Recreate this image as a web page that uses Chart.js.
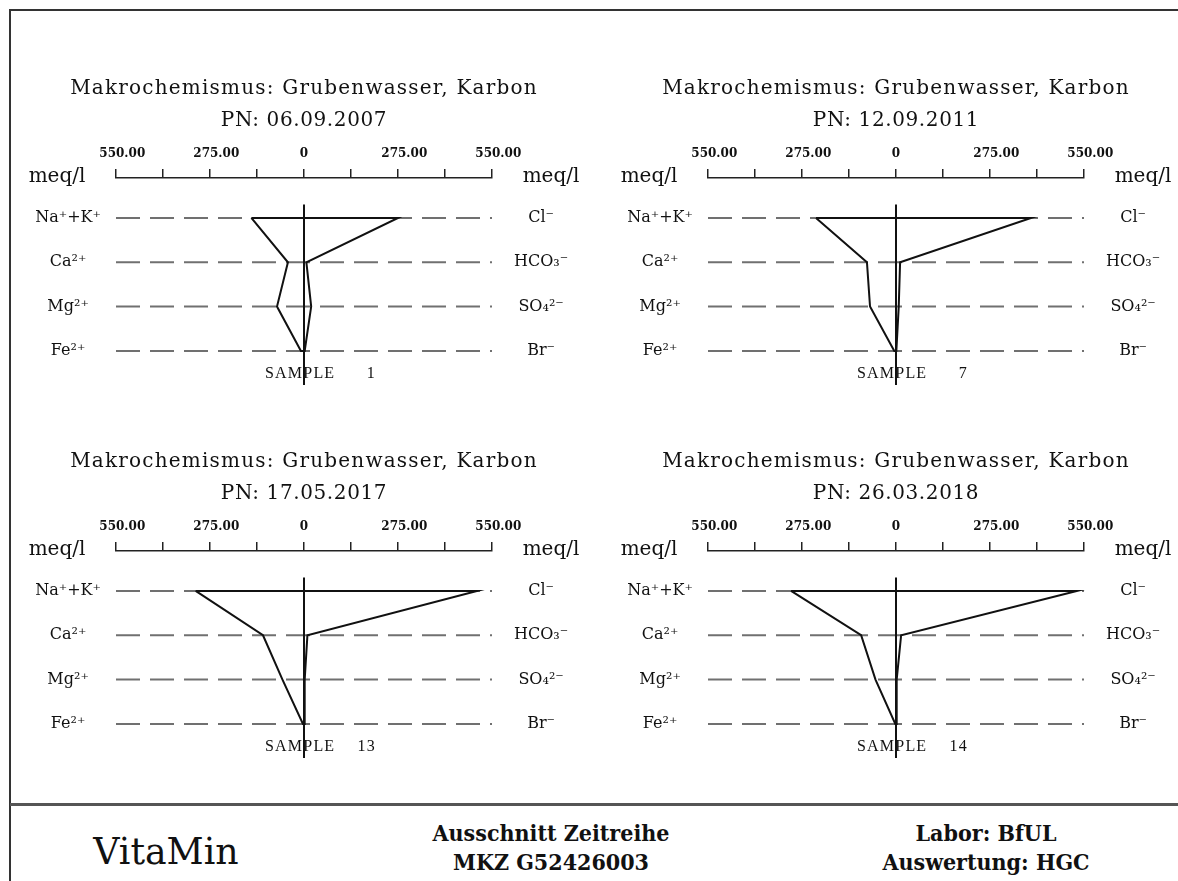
<!DOCTYPE html>
<html><head><meta charset="utf-8">
<script src="https://cdn.jsdelivr.net/npm/chart.js@4.4.1/dist/chart.umd.min.js"></script>
<style>
html,body{margin:0;padding:0;background:#fff;width:1178px;height:881px;overflow:hidden;position:relative}
#frame{position:absolute;left:9px;top:9px;width:1200px;height:900px;border-left:2px solid #333;border-top:2px solid #333}
#sep{position:absolute;left:10px;top:803px;width:1180px;height:3px;background:#555}
canvas.panel{position:absolute}
.foot{position:absolute;font-family:'DejaVu Serif';color:#111;white-space:nowrap;transform:translate(-50%,-50%) scaleX(0.94)}
</style></head><body>
<div id="frame"></div><div id="sep"></div>
<canvas class="panel" id="c0" width="592" height="373" style="left:0px;top:40px"></canvas>
<canvas class="panel" id="c1" width="592" height="373" style="left:592px;top:40px"></canvas>
<canvas class="panel" id="c2" width="592" height="373" style="left:0px;top:413px"></canvas>
<canvas class="panel" id="c3" width="592" height="373" style="left:592px;top:413px"></canvas>
<div class="foot" style="left:166px;top:851px;font-size:37px;transform:translate(-50%,-50%) scaleX(0.98)">VitaMin</div>
<div class="foot" style="left:551px;top:833px;font-size:22px;font-weight:bold">Ausschnitt Zeitreihe</div>
<div class="foot" style="left:551px;top:862px;font-size:22px;font-weight:bold">MKZ G52426003</div>
<div class="foot" style="left:986px;top:833px;font-size:22px;font-weight:bold">Labor: BfUL</div>
<div class="foot" style="left:986px;top:862px;font-size:22px;font-weight:bold">Auswertung: HGC</div>
<script>
// ---- data ----
const panelTitle = 'Makrochemismus: Grubenwasser, Karbon';
const cationLabels = ['Na⁺+K⁺', 'Ca²⁺', 'Mg²⁺', 'Fe²⁺'];
const anionLabels = ['Cl⁻', 'HCO₃⁻', 'SO₄²⁻', 'Br⁻'];
const sampleNumbers = ['1', '7', '13', '14'];
const sampleDates = ['06.09.2007', '12.09.2011', '17.05.2017', '26.03.2018'];
const tickValues = [-550, -412.5, -275, -137.5, 0, 137.5, 275, 412.5, 550];
const tickLabels = ['   550.00', '', '   275.00', '', '0', '', '   275.00', '', '   550.00'];
// cations: Na+K, Ca, Mg, Fe (meq/l)
const cationsS1 = [154, 47, 79, 9];
const cationsS7 = [234, 85, 76, 5];
const cationsS13 = [317, 120, 63, 3];
const cationsS14 = [307, 102, 60, 2];
// anions: Cl, HCO3, SO4, Br (meq/l)
const anionsS1 = [275, 7, 21, 2];
const anionsS7 = [395, 12, 8, 1];
const anionsS13 = [506, 10, 2, 1];
const anionsS14 = [529, 15, 2, 1];

const cationSets = [cationsS1, cationsS7, cationsS13, cationsS14];
const anionSets = [anionsS1, anionsS7, anionsS13, anionsS14];
const rows = [0, 1, 2, 3];

const textPlugin = {
  id: 'panelText',
  afterDraw(chart, args, opts) {
    const ctx = chart.ctx, ca = chart.chartArea, x = chart.scales.x;
    const cx = x.getPixelForValue(0);
    ctx.save();
    ctx.fillStyle = '#111';
    ctx.textAlign = 'center';
    ctx.textBaseline = 'middle';
    ctx.font = '20px "DejaVu Serif"';
    ctx.letterSpacing = '1.2px';
    ctx.fillText(panelTitle, cx, 49);
    ctx.letterSpacing = '0.6px';
    ctx.fillText('PN: ' + opts.date, cx, 81);
    ctx.letterSpacing = '0px';
    ctx.font = '20px "DejaVu Serif"';
    ctx.fillText('meq/l', ca.left - 59, x.bottom - 1);
    ctx.fillText('meq/l', ca.right + 59, x.bottom - 1);
    ctx.font = '16px "Liberation Serif"';
    ctx.letterSpacing = '1.2px';
    ctx.textAlign = 'left';
    ctx.fillText('SAMPLE', cx - 39, 334);
    ctx.textAlign = 'right';
    ctx.fillText(opts.num, cx + 72, 334);
    ctx.restore();
  }
};

function makePanel(id, k) {
  const c = cationSets[k], a = anionSets[k];
  const poly = [];
  rows.forEach(r => poly.push({x: -c[r], y: r}));
  rows.slice().reverse().forEach(r => poly.push({x: a[r], y: r}));
  poly.push({x: -c[0], y: 0});
  const datasets = [
    {data: poly, borderColor: '#111', borderWidth: 2},
    {data: [{x: 0, y: -0.3}, {x: 0, y: 3.77}], borderColor: '#111', borderWidth: 2}
  ];
  rows.forEach(r => datasets.push({
    data: [{x: -550, y: r}, {x: 550, y: r}], borderColor: '#707070', borderWidth: 2, borderDash: [24, 10]
  }));
  datasets.forEach(d => { d.showLine = true; d.pointRadius = 0; d.fill = false; d.yAxisID = 'yl'; d.clip = false; });
  const rowFont = {family: 'DejaVu Serif', size: 16, weight: 'normal'};
  const noPad = s => { s.paddingTop = 0; s.paddingBottom = 0; };
  new Chart(document.getElementById(id), {
    type: 'scatter',
    data: {datasets},
    options: {
      responsive: false, animation: false,
      layout: {padding: {top: 98, left: 0, right: 0, bottom: 0}},
      plugins: {legend: {display: false}, tooltip: {enabled: false}, panelText: {date: sampleDates[k], num: sampleNumbers[k]}},
      scales: {
        x: {type: 'linear', position: 'top', min: -550, max: 550,
          afterBuildTicks: s => { s.ticks = tickValues.map(v => ({value: v})); },
          afterFit: s => { s.height = 40; },
          ticks: {autoSkip: false, maxRotation: 0, padding: 8, color: '#111',
            font: {family: 'DejaVu Serif', size: 12, weight: 'bold'},
            callback: (v, i) => tickLabels[i]},
          grid: {display: true, drawOnChartArea: false, drawTicks: true, tickLength: 9, color: '#222', lineWidth: 1.5},
          border: {display: true, color: '#222', width: 1.5}
        },
        yl: {type: 'linear', position: 'left', reverse: true, min: -0.9, max: 4.4,
          afterBuildTicks: s => { s.ticks = rows.map(v => ({value: v})); },
          afterFit: s => { s.width = 116; noPad(s); },
          ticks: {padding: 15, crossAlign: 'center', color: '#111', font: rowFont, callback: v => cationLabels[v]},
          grid: {display: false, drawTicks: false}, border: {display: false}
        },
        yr: {type: 'linear', position: 'right', reverse: true, min: -0.9, max: 4.4,
          afterBuildTicks: s => { s.ticks = rows.map(v => ({value: v})); },
          afterFit: s => { s.width = 100; noPad(s); },
          ticks: {padding: 22, crossAlign: 'center', color: '#111', font: rowFont, callback: v => anionLabels[v]},
          grid: {display: false, drawTicks: false}, border: {display: false}
        }
      }
    },
    plugins: [textPlugin]
  });
}
['c0', 'c1', 'c2', 'c3'].forEach((id, k) => makePanel(id, k));
</script>
</body></html>
